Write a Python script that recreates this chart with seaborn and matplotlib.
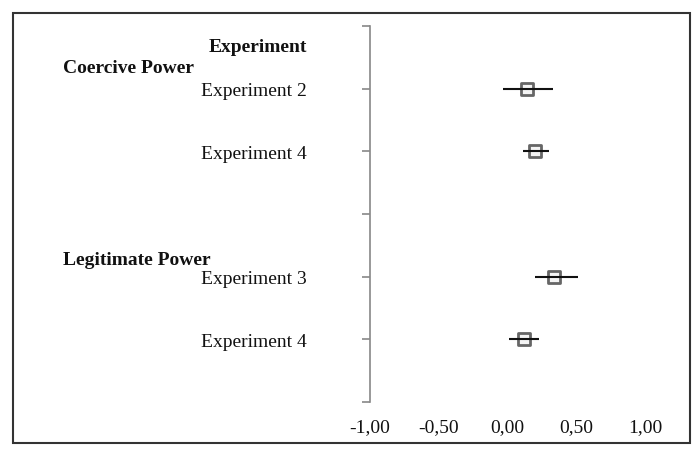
import matplotlib
matplotlib.use("Agg")
import matplotlib.pyplot as plt
import matplotlib.transforms as mtransforms
from matplotlib.patches import Rectangle
import seaborn as sns
import pandas as pd

# ---- data ----
studies = ["Experiment 2", "Experiment 4", "Experiment 3", "Experiment 4"]
groups = ["Coercive Power", "Coercive Power", "Legitimate Power", "Legitimate Power"]
estimates = [0.145, 0.20, 0.335, 0.12]
ci_low = [-0.03, 0.11, 0.20, 0.01]
ci_high = [0.33, 0.30, 0.51, 0.23]
row_index = [1, 2, 4, 5]          # row (category slot) of each study, counted from the top
n_rows = 6
xticks = [-1.0, -0.5, 0.0, 0.5, 1.0]
xtick_labels = ["-1,00", "-0,50", "0,00", "0,50", "1,00"]
header = "Experiment"
group_labels = ["Coercive Power", "Legitimate Power"]

df = pd.DataFrame({"study": studies, "group": groups, "est": estimates,
                   "lo": ci_low, "hi": ci_high, "row": row_index})

sns.set_theme(style="white")
plt.rcParams["font.family"] = ["Liberation Serif", "DejaVu Serif"]

fig = plt.figure(figsize=(7.0, 4.57), dpi=100)
ax = fig.add_axes([370/700, 1 - 402/457, (645-370)/700, (402-26)/457])

# CI lines and square markers
sns.scatterplot(data=df, x="est", y="row", marker="s", s=70, color="#f4f4f4",
                edgecolor="#666666", linewidth=2.0, ax=ax, zorder=2, legend=False)
ax.hlines(df["row"], df["lo"], df["hi"], color="#111111", linewidth=1.5, zorder=3)

ax.set_xlim(-1.0, 1.0)
ax.set_ylim(n_rows, 0)
ax.set_xticks(xticks)
ax.set_xticklabels(xtick_labels, fontsize=14)
ax.set_yticks(range(n_rows + 1))
ax.set_yticklabels([])
ax.set_xlabel("")
ax.set_ylabel("")
for s in ["top", "right", "bottom"]:
    ax.spines[s].set_visible(False)
ax.spines["left"].set_color("#888888")
ax.spines["left"].set_linewidth(1.2)
ax.tick_params(axis="y", left=True, length=6, width=1.2, color="#888888", direction="out")
ax.tick_params(axis="x", bottom=False, pad=6, colors="#111111")
ax.patch.set_alpha(0)

# left-hand labels
trans = mtransforms.blended_transform_factory(fig.transFigure, ax.transData)
right_x = 307/700
left_x = 63/700
ax.text(right_x, 0.35, header, transform=trans, ha="right", va="center",
        fontsize=14, fontweight="bold", color="#111111")
ax.text(left_x, 0.68, group_labels[0], transform=trans, ha="left", va="center",
        fontsize=14, fontweight="bold", color="#111111")
ax.text(left_x, 3.74, group_labels[1], transform=trans, ha="left", va="center",
        fontsize=14, fontweight="bold", color="#111111")
for lab, r in zip(studies, row_index):
    ax.text(right_x, r + 0.05, lab, transform=trans, ha="right", va="center",
            fontsize=14, color="#111111")

# outer frame
fig.patches.append(Rectangle((13/700, 1 - 443/457), (690-13)/700, (443-13)/457,
                             transform=fig.transFigure, fill=False,
                             edgecolor="#333333", linewidth=1.5))

fig.savefig("out.png", dpi=100)
